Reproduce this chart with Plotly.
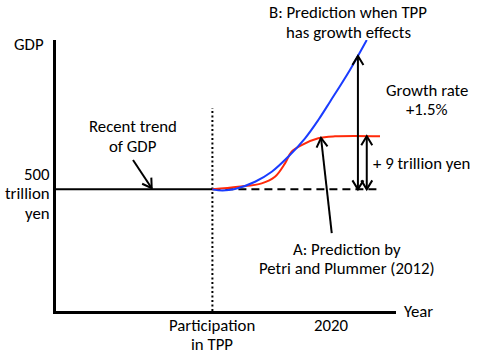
import plotly.graph_objects as go
import numpy as np

# ---- data (schematic: year vs GDP in trillion yen) ----
base_gdp = 500
tpp_year = 2013
label_year = 2020

blue_years = [2013.0, 2013.6, 2014.33, 2015.51, 2016.49, 2017.46, 2018.45, 2019.23, 2019.92, 2021.09, 2022.08]
blue_gdp = [500.0, 499.8, 500.05, 501.29, 502.98, 505.53, 508.65, 511.75, 514.85, 520.23, 525.3]

red_years = [2013.0, 2014.51, 2015.9, 2016.68, 2017.27, 2017.66, 2018.25, 2019.23, 2020.21, 2022.86]
red_gdp = [500.0, 500.44, 501.02, 502.14, 504.41, 506.38, 507.51, 508.65, 508.98, 509.0]

red_end_gdp = 509
trend_end_year = 2022.86
growth_arrow_year = 2021.56
growth_arrow_top = 522.6
nine_arrow_year = 2022.08

x_ticks = [tpp_year, label_year]
x_ticktext = [["Participation", "in TPP"], ["2020"]]

X_RANGE = [2003.8, 2023.8]
Y_RANGE = [479.4, 525.3]

W, H = 477, 357
ML, MR, MT, MB = 56, 81, 40, 46
PX_X = (W - ML - MR) / (X_RANGE[1] - X_RANGE[0])
PX_Y = (H - MT - MB) / (Y_RANGE[1] - Y_RANGE[0])

FONT = "Carlito, Calibri, Lato, sans-serif"
FS = 16.8

fig = go.Figure()


def line(xs, ys, color="black", width=2, dash=None, shape="linear"):
    fig.add_trace(go.Scatter(x=xs, y=ys, mode="lines", cliponaxis=False, showlegend=False,
                             hoverinfo="skip",
                             line=dict(color=color, width=width, dash=dash, shape=shape)))


def head(xt, yt, xf, yf, L=9, Wd=5.5):
    dx = (xt - xf) * PX_X
    dy = (yt - yf) * PX_Y
    n = np.hypot(dx, dy)
    ux, uy = dx / n, dy / n
    px, py = -uy, ux
    pts = []
    for s in (1, -1):
        hx = -L * ux + s * Wd * px
        hy = -L * uy + s * Wd * py
        pts.append((xt + hx / PX_X, yt + hy / PX_Y))
    line([pts[0][0], xt, pts[1][0]], [pts[0][1], yt, pts[1][1]], width=2)


def arrow(x0, y0, x1, y1, both=False):
    line([x0, x1], [y0, y1], width=2)
    head(x1, y1, x0, y0)
    if both:
        head(x0, y0, x1, y1)


# baseline trend
line([X_RANGE[0], tpp_year], [base_gdp, base_gdp], width=2)
line([tpp_year, trend_end_year], [base_gdp, base_gdp], width=2, dash="8px,5px")
# participation dotted line
line([tpp_year, tpp_year], [Y_RANGE[0], 513.8], width=2, dash="2px,2.5px")

# curves
line(red_years, red_gdp, color="#ff2a0a", width=2, shape="spline")
line(blue_years, blue_gdp, color="#1a3cff", width=2, shape="spline")

# arrows
arrow(growth_arrow_year, base_gdp, growth_arrow_year, growth_arrow_top, both=True)
arrow(nine_arrow_year, base_gdp, nine_arrow_year, red_end_gdp, both=True)
arrow(2008.33, 504.97, 2009.43, 500.2)
arrow(2020.02, 492.6, 2019.39, 508.7)


def to_paper(x, y):
    return ((x - X_RANGE[0]) / (X_RANGE[1] - X_RANGE[0]),
            (y - Y_RANGE[0]) / (Y_RANGE[1] - Y_RANGE[0]))


def text(x, y, s, xanchor="center"):
    px, py = to_paper(x, y)
    fig.add_annotation(x=px, y=py, xref="paper", yref="paper", text=s, showarrow=False,
                       xanchor=xanchor, yanchor="middle",
                       font=dict(family=FONT, size=FS, color="black"))


LINE = 19.5 / PX_Y  # line spacing in data units


def block(x, y_first, lines, xanchor="center"):
    for i, s in enumerate(lines):
        text(x, y_first - i * LINE, s, xanchor)


text(2003.2, 524.5, "GDP", "right")
block(2003.55, 502.6, ["500", "trillion", "yen"], "right")
block(2008.3, 510.6, ["Recent trend", "of GDP"])
text(2024.15, 479.3, "Year", "left")
block(2020.98, 529.9, ["B: Prediction when TPP", "has growth effects"])
block(2025.62, 516.8, ["Growth rate", "+1.5%"])
text(2025.3, 504.4, "+ 9 trillion yen")
block(2020.92, 489.9, ["A: Prediction by", "Petri and Plummer (2012)"])
for xv, lines in zip(x_ticks, x_ticktext):
    block(xv, 477.0, lines)

fig.update_layout(
    width=W, height=H,
    margin=dict(l=ML, r=MR, t=MT, b=MB, pad=0, autoexpand=False),
    paper_bgcolor="white", plot_bgcolor="white",
    font=dict(family=FONT, size=FS, color="black"),
    xaxis=dict(range=X_RANGE, showline=True, linecolor="black", linewidth=2.5, automargin=False,
               showgrid=False, zeroline=False, ticks="", showticklabels=False),
    yaxis=dict(range=Y_RANGE, showline=True, linecolor="black", linewidth=2.5, automargin=False,
               showgrid=False, zeroline=False, ticks="", showticklabels=False),
)

fig.write_html("out.html", config={"displayModeBar": False},
               post_script="document.body.style.margin='0';")
